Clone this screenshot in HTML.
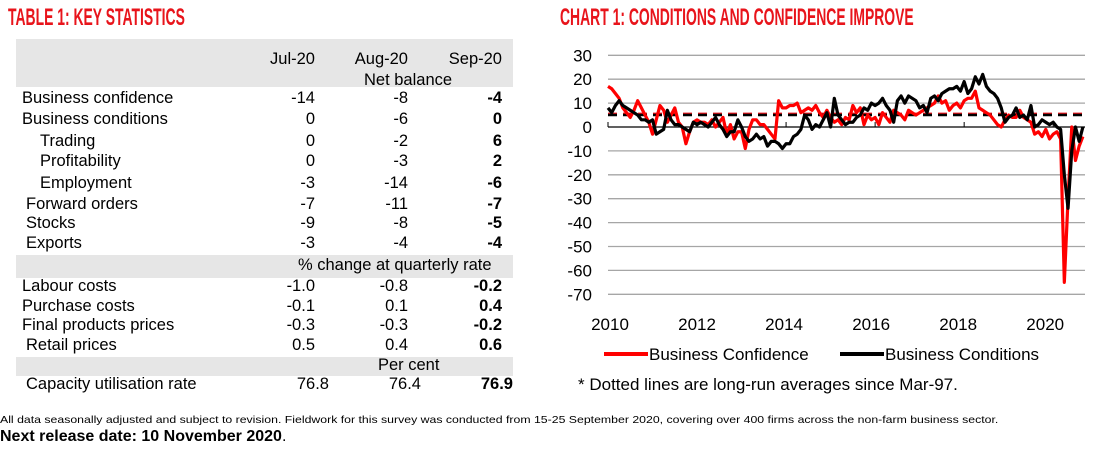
<!DOCTYPE html>
<html><head><meta charset="utf-8">
<style>
body{margin:0;width:1096px;height:452px;background:#fff;position:relative;overflow:hidden;font-family:"Liberation Sans",sans-serif;color:#000}
.a{position:absolute;white-space:nowrap}
.ttl{font-family:"Liberation Sans Narrow","Liberation Sans",sans-serif;font-weight:bold;color:#e8141b;font-size:24px;transform-origin:0 0;transform:scaleX(0.58)}
.band{position:absolute;left:16px;width:497px;background:#e6e6e6}
.r{font-size:16.5px}
.num{position:absolute;font-size:16.5px;text-align:right;width:60px}
.b{font-weight:bold}
</style></head><body>
<div class="a ttl" style="left:8px;top:4px">TABLE 1: KEY STATISTICS</div>
<div class="band" style="top:39px;height:48px"></div>
<div class="band" style="top:255px;height:23px"></div>
<div class="band" style="top:357px;height:19px"></div>
<div id="tbl"></div>
<div class="a ttl" style="left:560px;top:4px">CHART 1: CONDITIONS AND CONFIDENCE IMPROVE</div>
<svg id="chart" width="1096" height="452" style="position:absolute;left:0;top:0"></svg>
<div class="a" style="left:0;top:414px;font-size:10.5px;transform-origin:0 0;transform:scaleX(1.17)">All data seasonally adjusted and subject to revision. Fieldwork for this survey was conducted from 15-25 September 2020, covering over 400 firms across the non-farm business sector.</div>
<div class="a" style="left:0;top:428px;font-size:16px"><b>Next release date: 10 November 2020</b>.</div>
<script>
const rows=[
["",null,"Jul-20","Aug-20","Sep-20",60,false],
["",null,"","Net balance","",81,false],
["Business confidence",22,"-14","-8","-4",99],
["Business conditions",22,"0","-6","0",120],
["Trading",40,"0","-2","6",142],
["Profitability",40,"0","-3","2",162],
["Employment",40,"-3","-14","-6",184],
["Forward orders",26,"-7","-11","-7",205],
["Stocks",26,"-9","-8","-5",224],
["Exports",26,"-3","-4","-4",244],
["Labour costs",22,"-1.0","-0.8","-0.2",287],
["Purchase costs",22,"-0.1","0.1","0.4",307],
["Final products prices",22,"-0.3","-0.3","-0.2",326],
["Retail prices",26,"0.5","0.4","0.6",346],
["Capacity utilisation rate",26,"76.8","76.4","76.9",385]
];
const tbl=document.getElementById('tbl');
let h='';
rows.forEach((r,i)=>{
 const y=r[5]-10;
 if(r[0]) h+=`<div class="a r" style="left:${r[1]}px;top:${y}px">${r[0]}</div>`;
 const xs=i==14?[329,421,513]:[315,408,502];
 if(i==1){h+=`<div class="a r" style="left:364px;top:${y}px">Net balance</div>`;return;}
 [r[2],r[3],r[4]].forEach((v,j)=>{if(v!=='')h+=`<div class="num${(j==2&&i>0)?' b':''}" style="left:${xs[j]-60}px;top:${y}px">${v}</div>`;});
});
h+=`<div class="a r" style="left:298px;top:256px">% change at quarterly rate</div>`;
h+=`<div class="a r" style="left:378px;top:356px">Per cent</div>`;
tbl.innerHTML=h;
</script>
<script>
const yTicks=[30,20,10,0,-10,-20,-30,-40,-50,-60,-70];
const xLabels=["2010","2012","2014","2016","2018","2020"];
const confidence=[17,16,14,12,8,6,4,7,11,8,5,2,
-3,3,9,7,2,5,8,2,0,-7,-2,2,
3,2,2,1,3,0,2,4,-3,1,-5,-2,
-2,-9,-1,3,3,1,1,-1,-3,-5,11,8,
8,9,9,10,6,7,8,7,9,6,4,7,
4,2,3,1,4,3,9,6,8,1,5,3,
4,1,6,4,2,7,6,5,3,7,6,5,
6,7,8,9,10,13,10,11,7,9,10,8,
11,12,12,15,8,7,6,5,3,1,0,3,
5,4,4,7,4,3,2,-3,-2,-4,-1,-5,
-3,-2,-5,-65,-30,0,-14,-8,-4];
const conditions=[8,6,9,11,9,8,7,6,5,3,3,2,
3,-3,-2,-1,7,3,1,1,0,-1,-2,2,
1,2,1,0,2,4,1,-1,-4,-2,-2,3,
0,-4,-6,-5,-3,-5,-4,-8,-6,-6,-7,-9,
-7,-7,-4,-3,-1,5,3,-1,1,0,3,6,
0,12,5,3,1,2,2,4,5,8,7,10,
9,10,12,9,7,2,11,13,10,13,12,11,
8,9,6,12,13,11,14,15,16,16,17,15,
19,14,16,21,18,22,17,15,14,12,8,2,
4,5,8,4,5,3,9,0,1,3,2,1,
2,0,-1,-20,-34,-10,0,-6,0];
const avgConfidence=5.5, avgConditions=5;
const X0=608,MX=3.71,Y0=127,UY=2.39,R=1085;
const xs=m=>X0+m*MX, ys=v=>Y0-v*UY;
const svg=document.getElementById('chart');const NS='http://www.w3.org/2000/svg';
function mk(t,a,p){const e=document.createElementNS(NS,t);for(const k in a)e.setAttribute(k,a[k]);(p||svg).appendChild(e);return e;}
yTicks.forEach(v=>{
 if(v!==0){const g=mk('line',{x1:X0,x2:R,y1:ys(v),y2:ys(v),stroke:'#a6a6a6','stroke-width':1.3});
 
 }
 const t=mk('text',{x:592,y:ys(v)+6,'text-anchor':'end','font-size':17,'font-family':'Liberation Sans'});t.textContent=v;
 
 
});
const ax=mk('line',{x1:X0,x2:R,y1:ys(0),y2:ys(0),stroke:'#000','stroke-width':1.2});


xLabels.forEach((l,i)=>{
 const tk=mk('line',{x1:xs(i*24),x2:xs(i*24),y1:ys(0),y2:ys(0)-5,stroke:'#000'});
 
 
 const t=mk('text',{x:xs(i*24)+2-i*2,y:330,'text-anchor':'middle','font-size':17,'font-family':'Liberation Sans'});t.textContent=l;
 
 
});
const a1=mk('line',{x1:X0,x2:R,y1:ys(avgConfidence),y2:ys(avgConfidence),stroke:'#e8141b','stroke-width':2.5,'stroke-dasharray':'9 6'});


const a2=mk('line',{x1:X0,x2:R,y1:ys(avgConditions),y2:ys(avgConditions),stroke:'#000','stroke-width':2.5,'stroke-dasharray':'9 6'});


const p1=mk('polyline',{points:confidence.map((v,i)=>xs(i)+','+ys(v)).join(' '),fill:'none',stroke:'#ff0000','stroke-width':3.2,'stroke-linejoin':'round'});


const p2=mk('polyline',{points:conditions.map((v,i)=>xs(i)+','+ys(v)).join(' '),fill:'none',stroke:'#000','stroke-width':3.2,'stroke-linejoin':'round'});


const l1=mk('line',{x1:604,x2:648,y1:354,y2:354,stroke:'#ff0000','stroke-width':4});


const t1=mk('text',{x:649,y:360,'font-size':17,'font-family':'Liberation Sans'});t1.textContent='Business Confidence';


const l2=mk('line',{x1:840,x2:884,y1:354,y2:354,stroke:'#000','stroke-width':4});


const t2=mk('text',{x:885,y:360,'font-size':17,'font-family':'Liberation Sans'});t2.textContent='Business Conditions';


const t3=mk('text',{x:578,y:390,'font-size':17,'font-family':'Liberation Sans'});t3.textContent='* Dotted lines are long-run averages since Mar-97.';


</script>
</body></html>
